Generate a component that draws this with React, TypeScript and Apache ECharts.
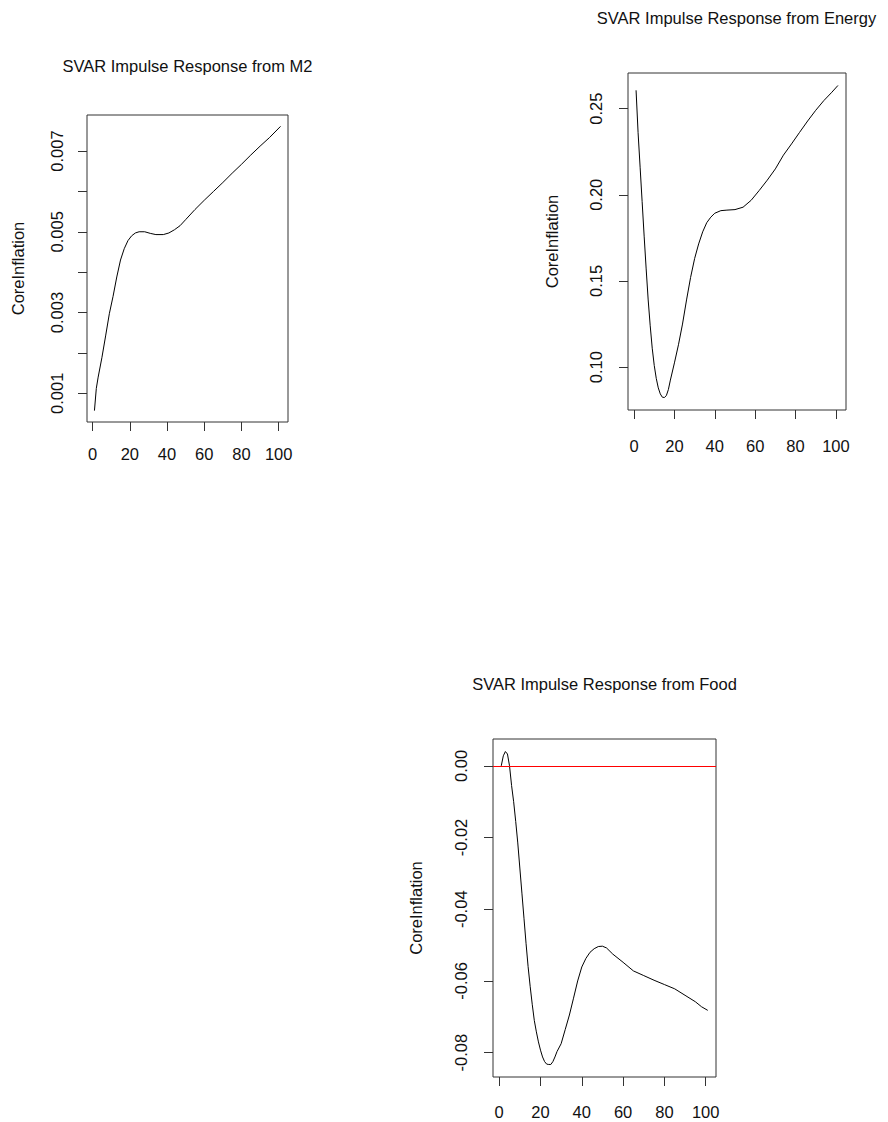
import React, { useEffect, useRef } from "react";
import * as echarts from "echarts";

// ---- Data ----
const m2X = [1, 2, 3, 5, 7, 9, 11, 13, 15, 17, 19, 21, 23, 25, 28, 31, 34, 38, 41, 44, 47, 50, 55, 60, 65, 70, 75, 80, 85, 90, 95, 101];
const m2Y = [0.00057, 0.00112, 0.0014, 0.00188, 0.00242, 0.00297, 0.0034, 0.00388, 0.0043, 0.00458, 0.00478, 0.0049, 0.00497, 0.005, 0.005, 0.00496, 0.00493, 0.00493, 0.00497, 0.00505, 0.00515, 0.0053, 0.00555, 0.00578, 0.006, 0.00622, 0.00645, 0.00667, 0.0069, 0.00712, 0.00733, 0.00761];

const energyX = [1, 2, 3, 4, 5, 6, 7, 8, 9, 10, 11, 12, 13, 14, 15, 16, 17, 18, 20, 22, 24, 26, 28, 30, 32, 34, 36, 38, 40, 43, 46, 50, 54, 58, 62, 66, 70, 74, 78, 82, 86, 90, 94, 98, 101];
const energyY = [0.2606, 0.236, 0.216, 0.196, 0.176, 0.157, 0.139, 0.124, 0.111, 0.101, 0.0935, 0.088, 0.0845, 0.0826, 0.0824, 0.0835, 0.087, 0.0925, 0.1025, 0.113, 0.125, 0.139, 0.152, 0.163, 0.1715, 0.1785, 0.1838, 0.187, 0.1893, 0.1908, 0.1911, 0.1914, 0.1928, 0.1968, 0.2025, 0.2085, 0.215, 0.223, 0.2295, 0.2362, 0.2428, 0.249, 0.2546, 0.2595, 0.2634];

const foodX = [1, 2, 3, 4, 5, 6, 7, 8, 9, 10, 11, 12, 13, 14, 15, 16, 17, 18, 19, 20, 21, 22, 23, 24, 25, 26, 27, 28, 30, 32, 34, 36, 38, 40, 42, 44, 46, 48, 50, 52, 55, 60, 65, 70, 75, 80, 85, 90, 95, 98, 101];
const foodY = [0.0, 0.0028, 0.004, 0.0033, 0.0, -0.0055, -0.01, -0.0155, -0.0215, -0.0285, -0.0355, -0.0425, -0.0495, -0.056, -0.0615, -0.0665, -0.071, -0.0742, -0.077, -0.0793, -0.0812, -0.0825, -0.0832, -0.0833, -0.0833, -0.0825, -0.0812, -0.0797, -0.0775, -0.0735, -0.0695, -0.0648, -0.06, -0.0561, -0.0537, -0.052, -0.051, -0.0504, -0.0503, -0.0508, -0.0525, -0.0548, -0.0572, -0.0585, -0.0598, -0.061, -0.0622, -0.064, -0.0658, -0.0672, -0.0682];

const xTicks = [0, 20, 40, 60, 80, 100];
const m2YTicks = [0.001, 0.002, 0.003, 0.004, 0.005, 0.006, 0.007];
const m2YLabels = [0.001, 0.003, 0.005, 0.007];
const energyYTicks = [0.1, 0.15, 0.2, 0.25];
const foodYTicks = [0, -0.02, -0.04, -0.06, -0.08];
const foodRefLine = [0];

const titles = [
  "SVAR Impulse Response from M2",
  "SVAR Impulse Response from Energy",
  "SVAR Impulse Response from Food",
];
const yName = "CoreInflation";

const FONT = "'Liberation Sans', Arial, Helvetica, sans-serif";
const FS = 16.5;

function rRange(v: number[]): [number, number] {
  const mn = Math.min(...v);
  const mx = Math.max(...v);
  const d = (mx - mn) * 0.04;
  return [mn - d, mx + d];
}

const zip = (xs: number[], ys: number[]) => xs.map((x, i) => [x, ys[i]]);

export default function App() {
  const ref = useRef<HTMLDivElement>(null);
  useEffect(() => {
    if (!ref.current) return;
    const chart = echarts.init(ref.current, undefined, { renderer: "svg" });

    const panels = [
      {
        grid: { left: 87, top: 115, width: 201, height: 307 },
        title: { x: 187.5, y: 66 },
        xs: m2X, ys: m2Y, yTicks: m2YTicks, yLabels: m2YLabels, dec: 3,
        nameGap: 61, yMargin: 22, xMargin: 23,
      },
      {
        grid: { left: 628, top: 73, width: 218, height: 337 },
        title: { x: 736.5, y: 18 },
        xs: energyX, ys: energyY, yTicks: energyYTicks, yLabels: energyYTicks, dec: 2,
        nameGap: 68, yMargin: 24, xMargin: 27,
      },
      {
        grid: { left: 493, top: 739, width: 223, height: 338 },
        title: { x: 604.5, y: 684 },
        xs: foodX, ys: foodY, yTicks: foodYTicks, yLabels: foodYTicks, dec: 2,
        nameGap: 69, yMargin: 24, xMargin: 26,
      },
    ];

    const option: any = {
      animation: false,
      backgroundColor: "#ffffff",
      textStyle: { fontFamily: FONT },
      grid: panels.map((p) => ({
        ...p.grid,
        show: true,
        borderColor: "#333",
        borderWidth: 1,
        backgroundColor: "transparent",
        containLabel: false,
      })),
      xAxis: panels.map((p, i) => {
        const [mn, mx] = rRange(p.xs);
        return {
          type: "value",
          gridIndex: i,
          position: "bottom",
          min: mn,
          max: mx,
          axisLine: { show: false, onZero: false },
          splitLine: { show: false },
          axisTick: {
            show: true,
            customValues: xTicks,
            length: 9,
            lineStyle: { color: "#333", width: 1 },
          },
          axisLabel: {
            customValues: xTicks,
            margin: p.xMargin,
            fontSize: FS,
            color: "#111",
            fontFamily: FONT,
            formatter: (v: number) => String(Math.round(v)),
          },
        };
      }),
      yAxis: panels.map((p, i) => {
        const [mn, mx] = rRange(p.ys);
        return {
          type: "value",
          gridIndex: i,
          position: "left",
          min: mn,
          max: mx,
          name: yName,
          nameLocation: "middle",
          nameRotate: 90,
          nameGap: p.nameGap,
          nameTextStyle: { fontSize: FS, color: "#111", fontFamily: FONT },
          axisLine: { show: false, onZero: false },
          splitLine: { show: false },
          axisTick: {
            show: true,
            customValues: p.yTicks,
            length: 9,
            lineStyle: { color: "#333", width: 1 },
          },
          axisLabel: {
            customValues: p.yLabels,
            rotate: 90,
            margin: p.yMargin,
            fontSize: FS,
            color: "#111",
            fontFamily: FONT,
            formatter: (v: number) => v.toFixed(p.dec),
          },
        };
      }),
      series: panels.map((p, i) => ({
        type: "line",
        xAxisIndex: i,
        yAxisIndex: i,
        data: zip(p.xs, p.ys),
        showSymbol: false,
        silent: true,
        lineStyle: { color: "#000", width: 1 },
        ...(i === 2
          ? {
              markLine: {
                silent: true,
                symbol: ["none", "none"],
                label: { show: false },
                lineStyle: { color: "#ff0000", width: 1, type: "solid" },
                data: foodRefLine.map((v) => ({ yAxis: v })),
              },
            }
          : {}),
      })),
      graphic: panels.map((p, i) => ({
        type: "text",
        x: p.title.x,
        y: p.title.y,
        style: {
          text: titles[i],
          fontSize: FS,
          fontFamily: FONT,
          fill: "#111",
          textAlign: "center",
          textVerticalAlign: "middle",
        },
      })),
    };

    chart.setOption(option);
    return () => chart.dispose();
  }, []);

  return (
    <div
      ref={ref}
      style={{ position: "absolute", left: 0, top: 0, width: 888, height: 1122 }}
    />
  );
}
